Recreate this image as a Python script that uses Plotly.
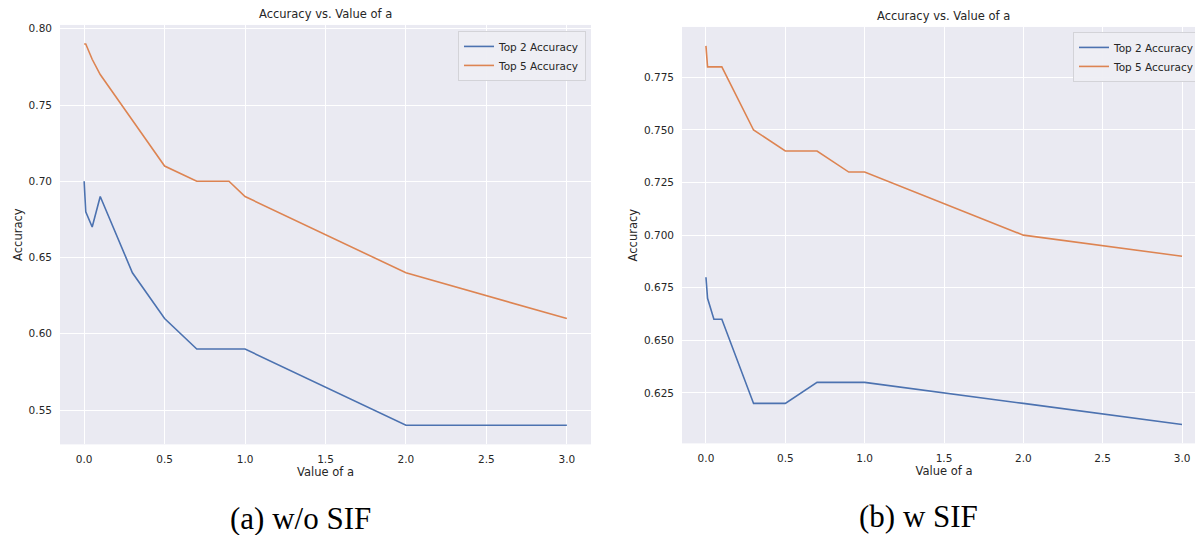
import plotly.graph_objects as go

# ---- data ----
a_values = [0.0, 0.01, 0.05, 0.1, 0.3, 0.5, 0.7, 0.9, 1.0, 2.0, 3.0]

wo_sif_top2 = [0.70, 0.68, 0.67, 0.69, 0.64, 0.61, 0.59, 0.59, 0.59, 0.54, 0.54]
wo_sif_top5 = [0.79, 0.79, 0.78, 0.77, 0.74, 0.71, 0.70, 0.70, 0.69, 0.64, 0.61]

w_sif_top2 = [0.68, 0.67, 0.66, 0.66, 0.62, 0.62, 0.63, 0.63, 0.63, 0.62, 0.61]
w_sif_top5 = [0.79, 0.78, 0.78, 0.78, 0.75, 0.74, 0.74, 0.73, 0.73, 0.70, 0.69]

series_names = ["Top 2 Accuracy", "Top 5 Accuracy"]
panel_title = "Accuracy vs. Value of a"
x_title = "Value of a"
y_title = "Accuracy"
captions = ["(a) w/o SIF", "(b) w SIF"]

BLUE = "#4C72B0"
ORANGE = "#DD8452"
BG = "#EAEAF2"
TXT = "#262626"
W, H = 1203, 535
OFF = 8  # page body margin offset


def px_x(p):
    return (p - OFF) / W


def px_y(p):
    return (H - (p - OFF)) / H


fig = go.Figure()

fig.add_trace(go.Scatter(x=a_values, y=wo_sif_top2, mode="lines", name=series_names[0],
                         line=dict(color=BLUE, width=1.6), xaxis="x", yaxis="y", legend="legend"))
fig.add_trace(go.Scatter(x=a_values, y=wo_sif_top5, mode="lines", name=series_names[1],
                         line=dict(color=ORANGE, width=1.6), xaxis="x", yaxis="y", legend="legend"))
fig.add_trace(go.Scatter(x=a_values, y=w_sif_top2, mode="lines", name=series_names[0],
                         line=dict(color=BLUE, width=1.6), xaxis="x2", yaxis="y2", legend="legend2"))
fig.add_trace(go.Scatter(x=a_values, y=w_sif_top5, mode="lines", name=series_names[1],
                         line=dict(color=ORANGE, width=1.6), xaxis="x2", yaxis="y2", legend="legend2"))

tickfont = dict(family="DejaVu Sans", size=10.5, color=TXT)
common_x = dict(showgrid=True, gridcolor="white", gridwidth=1.2, zeroline=False, showline=False,
                ticks="", tickfont=tickfont, tickvals=[0, 0.5, 1, 1.5, 2, 2.5, 3],
                ticktext=["0.0", "0.5", "1.0", "1.5", "2.0", "2.5", "3.0"],
                ticklabelstandoff=7,
                title=dict(text=x_title, font=dict(family="DejaVu Sans", size=11.5, color=TXT), standoff=3))
common_y = dict(showgrid=True, gridcolor="white", gridwidth=1.2, zeroline=False, showline=False,
                ticks="", tickfont=tickfont, ticklabelstandoff=7,
                title=dict(text=y_title, font=dict(family="DejaVu Sans", size=11.5, color=TXT), standoff=3))

leg_common = dict(xanchor="right", yanchor="top",
                  bgcolor="rgba(238,238,243,0.95)", bordercolor="#D3D3D8", borderwidth=1,
                  font=dict(family="DejaVu Sans", size=10.5, color=TXT),
                  tracegroupgap=0, itemwidth=30)

fig.update_layout(
    width=W, height=H,
    margin=dict(l=0, r=0, t=0, b=0),
    paper_bgcolor="white",
    plot_bgcolor=BG,
    xaxis=dict(common_x, domain=[px_x(60), px_x(591)], range=[-0.15, 3.15], anchor="y"),
    yaxis=dict(common_y, domain=[px_y(444), px_y(23)], range=[0.5275, 0.8025], anchor="x",
               tickvals=[0.55, 0.60, 0.65, 0.70, 0.75, 0.80], tickformat=".2f"),
    xaxis2=dict(common_x, domain=[px_x(682), px_x(1206)], range=[-0.151, 3.151], anchor="y2"),
    yaxis2=dict(common_y, domain=[px_y(443), px_y(25)], range=[0.601, 0.799], anchor="x2",
                tickvals=[0.625, 0.650, 0.675, 0.700, 0.725, 0.750, 0.775], tickformat=".3f"),
    legend=dict(leg_common, x=px_x(586), y=px_y(29)),
    legend2=dict(leg_common, x=px_x(1201), y=px_y(30)),
    showlegend=True,
)

annotations = [
    dict(text=panel_title, x=(px_x(60) + px_x(591)) / 2, y=px_y(12), xref="paper", yref="paper",
         showarrow=False, font=dict(family="DejaVu Sans", size=11.5, color=TXT), xanchor="center", yanchor="middle"),
    dict(text=panel_title, x=(px_x(682) + px_x(1206)) / 2, y=px_y(14), xref="paper", yref="paper",
         showarrow=False, font=dict(family="DejaVu Sans", size=11.5, color=TXT), xanchor="center", yanchor="middle"),
    dict(text=captions[0], x=px_x(300), y=px_y(518), xref="paper", yref="paper",
         showarrow=False, font=dict(family="Liberation Serif", size=31, color="black"), xanchor="center", yanchor="middle"),
    dict(text=captions[1], x=px_x(918), y=px_y(516), xref="paper", yref="paper",
         showarrow=False, font=dict(family="Liberation Serif", size=31, color="black"), xanchor="center", yanchor="middle"),
]
fig.update_layout(annotations=annotations)

fig.write_html("out.html")
